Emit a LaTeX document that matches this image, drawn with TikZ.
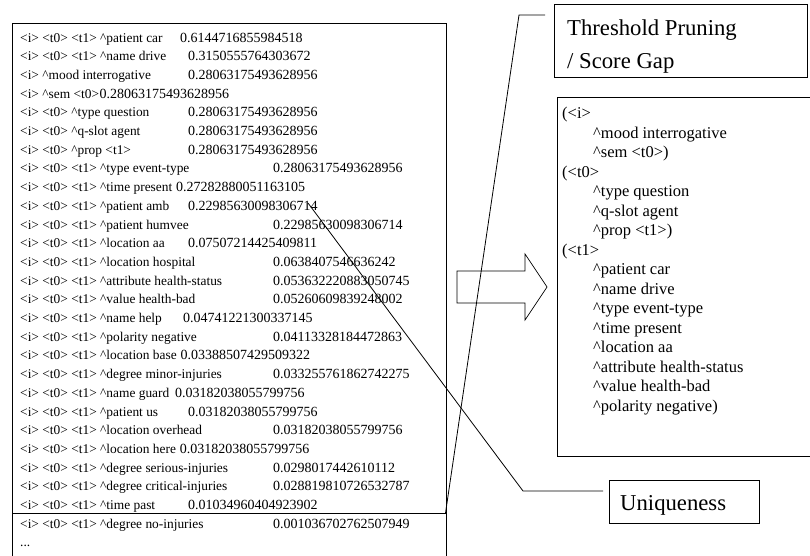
\documentclass[tikz,border=0pt]{standalone}
\usepackage{fontspec}
\setmainfont{Liberation Serif}
\newcommand\crt{\textasciicircum}
\begin{document}
\begin{tikzpicture}[x=1pt,y=-1pt,
  frame/.style={draw=black, line width=0.8pt, inner sep=0pt},
  conn/.style={draw=black, line width=0.8pt},
  lrow/.style={anchor=base west, inner sep=0pt, font=\fontsize{13.4}{16}\selectfont},
  lnum/.style={anchor=base west, inner sep=0pt, font=\fontsize{14}{16}\selectfont},
  rrow/.style={anchor=base west, inner sep=0pt, font=\fontsize{16.5}{19}\selectfont},
  bigtext/.style={anchor=base west, inner sep=0pt, font=\fontsize{22.7}{26}\selectfont}]
\useasboundingbox (0,0) rectangle (810,555);
\clip (0,0) rectangle (810,555);
\fill[white] (0,0) rectangle (810,555);

% ---------- left list box ----------
\node[frame, anchor=north west, minimum width=433.5pt, minimum height=550pt] (lbox) at (12,23) {};
\coordinate (sepR) at (445.5,513);
\draw[frame] (lbox.west |- sepR) -- (sepR);

\newcommand\lrowA[4]{%
  \node[lrow] (r#1) at (20,{42+(#1-1)*18.7}) {#2};
  \node[lnum] (n#1) at (#4,{42+(#1-1)*18.7}) {#3};}
\newcommand\lrowB[4]{%
  \node[lrow] (r#1) at (20,{42+(#1-1)*18.7}) {#2};
  \node[lnum, anchor=base west] (n#1) at ([xshift=#4]r#1.base east) {#3};}
\def\ind{273}

\lrowA{1}{<i> <t0> <t1> \crt patient car}{0.6144716855984518}{180}
\lrowA{2}{<i> <t0> <t1> \crt name drive}{0.3150555764303672}{188}
\lrowA{3}{<i> \crt mood interrogative}{0.28063175493628956}{188}
\lrowB{4}{<i> \crt sem <t0>}{0.28063175493628956}{0pt}
\lrowA{5}{<i> <t0> \crt type question}{0.28063175493628956}{188}
\lrowA{6}{<i> <t0> \crt q-slot agent}{0.28063175493628956}{188}
\lrowA{7}{<i> <t0> \crt prop <t1>}{0.28063175493628956}{188}
\lrowA{8}{<i> <t0> <t1> \crt type event-type}{0.28063175493628956}{\ind}
\lrowB{9}{<i> <t0> <t1> \crt time present}{0.27282880051163105}{3.4pt}
\lrowA{10}{<i> <t0> <t1> \crt patient amb}{0.22985630098306714}{188}
\lrowA{11}{<i> <t0> <t1> \crt patient humvee}{0.22985630098306714}{\ind}
\lrowA{12}{<i> <t0> <t1> \crt location aa}{0.07507214425409811}{188}
\lrowA{13}{<i> <t0> <t1> \crt location hospital}{0.0638407546636242}{\ind}
\lrowA{14}{<i> <t0> <t1> \crt attribute health-status}{0.053632220883050745}{\ind}
\lrowA{15}{<i> <t0> <t1> \crt value health-bad}{0.05260609839248002}{\ind}
\lrowA{16}{<i> <t0> <t1> \crt name help}{0.04741221300337145}{183}
\lrowA{17}{<i> <t0> <t1> \crt polarity negative}{0.04113328184472863}{\ind}
\lrowB{18}{<i> <t0> <t1> \crt location base}{0.03388507429509322}{3.4pt}
\lrowA{19}{<i> <t0> <t1> \crt degree minor-injuries}{0.033255761862742275}{\ind}
\lrowA{20}{<i> <t0> <t1> \crt name guard}{0.03182038055799756}{175}
\lrowA{21}{<i> <t0> <t1> \crt patient us}{0.03182038055799756}{188}
\lrowA{22}{<i> <t0> <t1> \crt location overhead}{0.03182038055799756}{\ind}
\lrowB{23}{<i> <t0> <t1> \crt location here}{0.03182038055799756}{3.4pt}
\lrowA{24}{<i> <t0> <t1> \crt degree serious-injuries}{0.0298017442610112}{\ind}
\lrowA{25}{<i> <t0> <t1> \crt degree critical-injuries}{0.028819810726532787}{\ind}
\lrowA{26}{<i> <t0> <t1> \crt time past}{0.01034960404923902}{188}
\lrowA{27}{<i> <t0> <t1> \crt degree no-injuries}{0.001036702762507949}{\ind}
\node[lrow] (r28) at (20,{42+27*18.7}) {...};

% ---------- block arrow ----------
\draw[conn, line width=0.7pt] (457,271) -- (525,271) -- (525,254) -- (547,287)
  -- (525,320) -- (525,303) -- (457,303) -- cycle;

% ---------- threshold box ----------
\node[frame, anchor=north west, minimum width=253pt, minimum height=73pt] (thr) at (554,4) {};
\node[bigtext] (thr1) at (567,35) {Threshold Pruning};
\node[bigtext] (thr2) at (567,68) {/ Score Gap};

% ---------- structure box ----------
\node[frame, anchor=north west, minimum width=262pt, minimum height=359pt] (sbox) at (557,97) {};
\newcommand\srow[3]{\node[rrow] (s#1) at (#2,{118.5+(#1-1)*19.5}) {#3};}
\srow{1}{562}{(<i>}
\srow{2}{593}{\crt mood interrogative}
\srow{3}{593}{\crt sem <t0>)}
\srow{4}{562}{(<t0>}
\srow{5}{593}{\crt type question}
\srow{6}{593}{\crt q-slot agent}
\srow{7}{593}{\crt prop <t1>)}
\srow{8}{562}{(<t1>}
\srow{9}{593}{\crt patient car}
\srow{10}{593}{\crt name drive}
\srow{11}{593}{\crt type event-type}
\srow{12}{593}{\crt time present}
\srow{13}{593}{\crt location aa}
\srow{14}{593}{\crt attribute health-status}
\srow{15}{593}{\crt value health-bad}
\srow{16}{593}{\crt polarity negative)}

% ---------- uniqueness box ----------
\node[frame, anchor=north west, minimum width=150pt, minimum height=43pt] (uniq) at (609,480) {};
\node[bigtext] (uniqt) at (620,510) {Uniqueness};

% ---------- connectors ----------
\coordinate (bend1) at (519,15);
\draw[conn, shorten >=9pt] (sepR) -- (bend1) -- (thr.west |- bend1);
\coordinate (p1) at (308,203);
\coordinate (bend2) at (523,491);
\draw[conn, shorten >=6pt] (p1) -- (bend2) -- (uniq.west |- bend2);
\end{tikzpicture}
\end{document}
